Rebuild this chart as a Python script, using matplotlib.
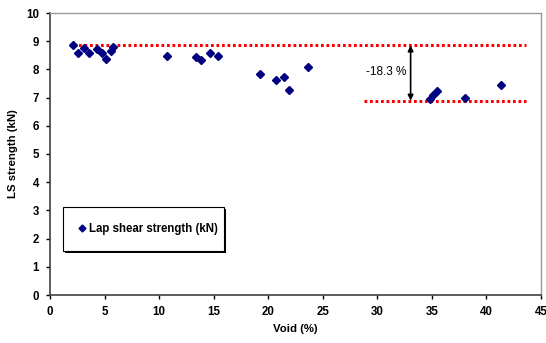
import matplotlib
matplotlib.use("Agg")
import matplotlib.pyplot as plt
from matplotlib.patches import FancyArrowPatch, Rectangle

# -----------------------------
# Data
# -----------------------------
void = [2.1, 2.6, 3.15, 3.55, 4.3, 4.75, 5.1, 5.6, 5.8,
        10.7, 13.4, 13.85, 14.7, 15.4,
        19.25, 20.75, 21.45, 21.9, 23.6,
        34.8, 35.1, 35.5, 38.0, 41.3]
strength = [8.85, 8.59, 8.77, 8.58, 8.73, 8.58, 8.36, 8.64, 8.79,
            8.47, 8.45, 8.34, 8.58, 8.49,
            7.85, 7.63, 7.72, 7.28, 8.10,
            6.95, 7.09, 7.22, 7.00, 7.46]

upper_level = 8.85
lower_level = 6.89
upper_span = [2.1, 43.6]
lower_span = [28.8, 43.6]
arrow_x = 33.05
drop_label = "-18.3 %"

# -----------------------------
# Plot
# -----------------------------
plt.rcParams["font.family"] = ["Liberation Sans", "DejaVu Sans"]
plt.rcParams["font.weight"] = "bold"

fig = plt.figure(figsize=(5.46, 3.43), dpi=100)
ax = fig.add_axes([50 / 546, 48 / 343, 491 / 546, 282 / 343])

ax.plot(upper_span, [upper_level, upper_level], color="red", lw=2.2,
        linestyle=(0, (0.9, 0.9)), zorder=2)
ax.plot(lower_span, [lower_level, lower_level], color="red", lw=2.2,
        linestyle=(0, (0.9, 0.9)), zorder=2)

ax.plot(void, strength, linestyle="none", marker="D", markersize=4.4,
        color="#000080", label="Lap shear strength (kN)", zorder=3)

arrow = FancyArrowPatch((arrow_x, upper_level), (arrow_x, lower_level),
                        arrowstyle="<|-|>", mutation_scale=8, color="black",
                        lw=1.2, shrinkA=0, shrinkB=0, zorder=4)
ax.add_patch(arrow)
ax.text(arrow_x - 0.4, 7.9, drop_label, ha="right", va="center",
        fontsize=8.5, fontweight="normal")

ax.set_xlim(0, 45)
ax.set_ylim(0, 10)
ax.set_xticks(range(0, 46, 5))
ax.set_yticks(range(0, 11, 1))
ax.tick_params(labelsize=8.3, length=3, width=1, direction="out", pad=5)
ax.set_xlabel("Void (%)", fontsize=8.2, fontweight="bold", labelpad=4)
ax.set_ylabel("LS strength (kN)", fontsize=8.2, fontweight="bold", labelpad=6)

for side in ["left", "bottom"]:
    ax.spines[side].set_color("#404040")
    ax.spines[side].set_linewidth(1.2)
for side in ["top", "right"]:
    ax.spines[side].set_color("#9a9a9a")
    ax.spines[side].set_linewidth(1.0)

# legend box stretched to the reference width
leg = ax.legend(loc="upper left", bbox_to_anchor=(0.0271, 0.1535, 0.328, 0.157),
                mode="expand", frameon=True, fancybox=False, shadow=False,
                framealpha=1, fontsize=8.3, handlelength=0.6,
                handletextpad=0.25, borderpad=1.35, markerscale=0.8,
                borderaxespad=0)
leg.get_frame().set_edgecolor("black")
leg.get_frame().set_linewidth(0.8)
leg.set_zorder(6)

# small drop shadow behind the legend box
fig.canvas.draw()
bb = leg.get_window_extent()
shadow = Rectangle((bb.x0 + 2, bb.y0 - 2), bb.width, bb.height,
                   transform=None, facecolor="black", edgecolor="none",
                   zorder=5)
ax.add_artist(shadow)

fig.savefig("out.png", dpi=100)
